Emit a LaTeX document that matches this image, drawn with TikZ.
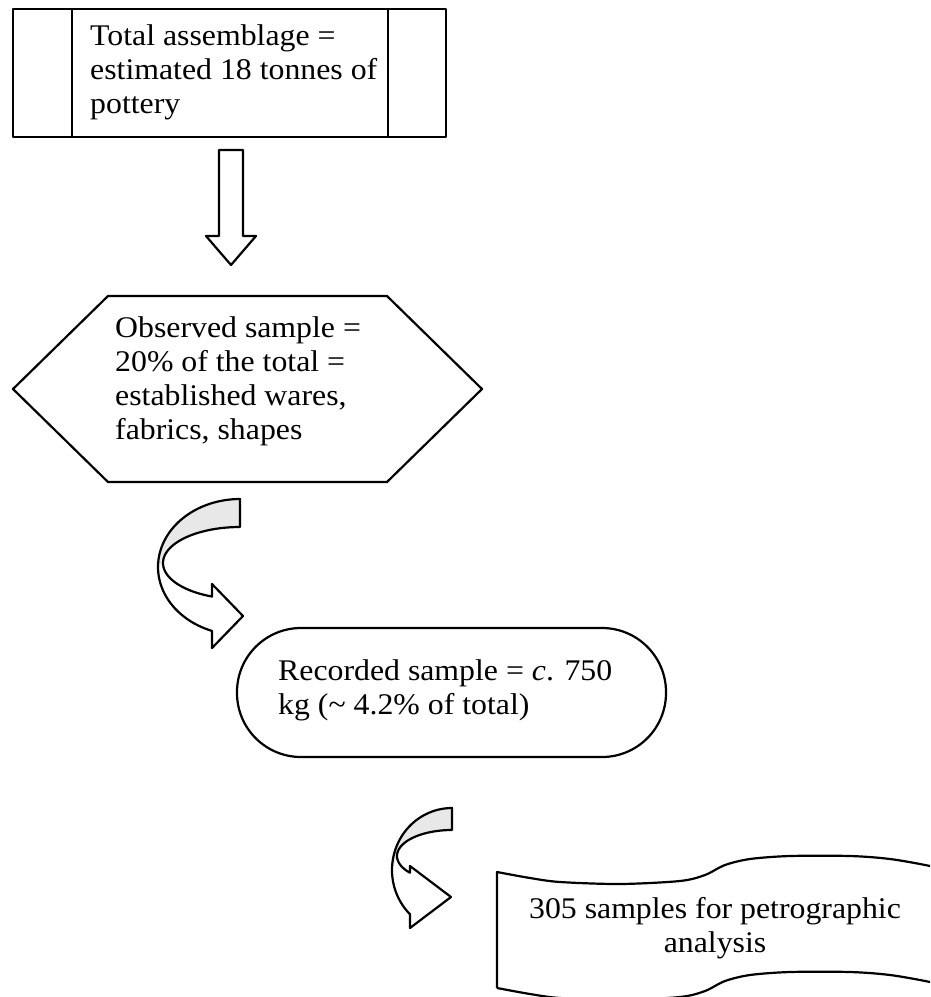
\documentclass[tikz,border=0pt]{standalone}
\usepackage{fontspec}
\setmainfont{Liberation Serif}[FakeStretch=1.06]
\begin{document}
\begin{tikzpicture}[x=1pt,y=-1pt,
  outline/.style={draw=black, line width=2.2pt, line join=round},
  txt/.style={inner sep=0pt, font=\fontsize{30}{34}\selectfont, align=left, anchor=north west},
  backside/.style={fill=black!9}]
\useasboundingbox (0,0) rectangle (930,997);
\fill[white] (0,0) rectangle (930,997);
\clip (0,0) rectangle (930,997);

% top box
\draw[outline] (13,9) rectangle (446,137);
\draw[outline] (72,9) -- (72,137);
\draw[outline] (388,9) -- (388,137);
\node[txt] (total) at (90,21) {\strut Total assemblage =\\ estimated 18 tonnes of\\ pottery};

% down block arrow
\draw[outline] (219,150) -- (243,150) -- (243,236) -- (256,236) -- (231,265) -- (206,236) -- (219,236) -- cycle;

% hexagon
\draw[outline] (108,296) -- (387,296) -- (482,389) -- (387,482) -- (108,482) -- (13,389) -- cycle;
\node[txt] (observed) at (115,313) {\strut Observed sample =\\ 20\% of the total =\\ established wares,\\ fabrics, shapes};

% curved arrow 1
\fill[backside] plot[domain=0:90,samples=30] ({240+82*cos(270-\x)},{567+68*sin(270-\x)})
   -- plot[domain=180:270,samples=30] ({240+77*cos(\x)},{563+36*sin(\x)}) -- cycle;
\draw[outline] plot[domain=0:160,samples=60] ({240+82*cos(270-\x)},{567+68*sin(270-\x)})
   -- (212,648) -- (243,616) -- (212,584)
   -- plot[domain=111.3:270,samples=60] ({240+77*cos(\x)},{563+36*sin(\x)}) -- cycle;

% terminator
\draw[outline, rounded corners=64pt] (237,628) rectangle (666,757);
\node[txt] (recorded) at (278,656) {\strut Recorded sample = \textit{c}. 750\\ kg (\textasciitilde\ 4.2\% of total)};

% curved arrow 2
\fill[backside] plot[domain=0:90,samples=30] ({452+60*cos(270-\x)},{870+62*sin(270-\x)})
   -- plot[domain=180:270,samples=30] ({452+55*cos(\x)},{856+26*sin(\x)}) -- cycle;
\draw[outline] plot[domain=0:135.6,samples=60] ({452+60*cos(270-\x)},{870+62*sin(270-\x)})
   -- (410,928) -- (451,897) -- (410,866)
   -- plot[domain=139.8:270,samples=60] ({452+55*cos(\x)},{856+26*sin(\x)}) -- cycle;

% wave / document shape
\draw[outline] (497,988) -- (497,872)
  -- plot[smooth] coordinates {(497,872) (530,878) (560,882) (620,884) (680,881) (705,875) (725,865) (750,859) (790,856) (850,856) (890,859) (930,866) (945,871)}
  -- (945,987)
  -- plot[smooth] coordinates {(945,987) (930,982) (890,975) (850,972) (790,972) (750,975) (725,981) (705,991) (680,997) (620,1000) (560,998) (530,994) (497,988)};
\node[txt, align=center, anchor=north] (petro) at (715,894) {\strut 305 samples for petrographic\\ analysis};
\end{tikzpicture}
\end{document}
